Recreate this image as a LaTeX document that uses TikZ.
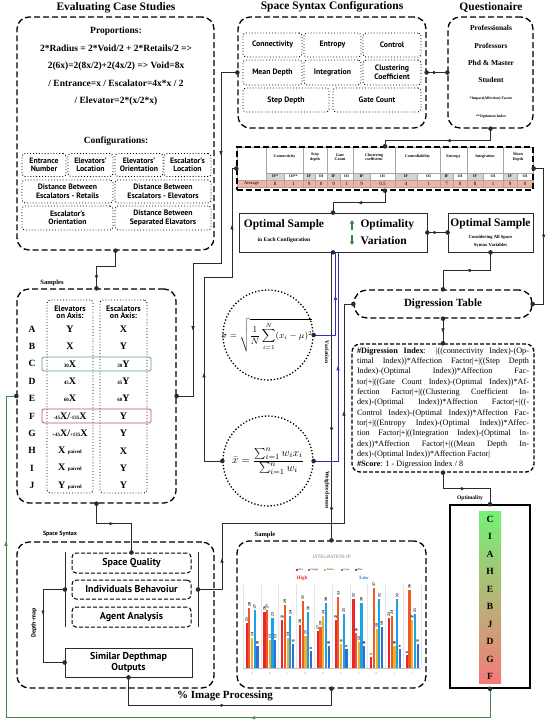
\documentclass[tikz,border=0pt]{standalone}
\usepackage{amsmath,amssymb}
\usepackage{fontspec}
\setmainfont{Liberation Serif}
\setsansfont{PT Sans}
\usepackage{xcolor}
\usepackage{tikz}
\usetikzlibrary{positioning, arrows.meta, decorations.markings}
\definecolor{lInk}{HTML}{2B2B2B}
\definecolor{lGreen}{HTML}{3C8C4C}
\definecolor{lBlue}{HTML}{2F2FB8}
\definecolor{tGray}{HTML}{D4D4D4}
\definecolor{tSalmon}{HTML}{F2B3A0}
\definecolor{hiGreen}{HTML}{5FA36E}
\definecolor{hiRed}{HTML}{D0504E}
\definecolor{triGreen}{HTML}{2E8B3E}
\definecolor{barc1}{HTML}{E8262B}
\definecolor{barc2}{HTML}{EE5A24}
\definecolor{barc3}{HTML}{F2B02A}
\definecolor{barc4}{HTML}{1E9FE6}
\definecolor{barc5}{HTML}{2D6FD2}
\definecolor{topGreen}{HTML}{74F274}
\definecolor{midTan}{HTML}{C7AC78}
\definecolor{botRed}{HTML}{F57A7A}
\newcommand{\fsz}[2]{\fontsize{#1}{#2}\selectfont}
\newcommand{\smallnum}[1]{{\fsz{5}{5}#1}}
\tikzset{
  bigbox/.style={draw=black, line width=1.3pt, dash pattern=on 6pt off 3pt,
    rounded corners=12pt, inner sep=0pt},
  dotbox/.style={draw=black, line width=0.9pt, dotted, rounded corners=3pt,
    inner sep=0pt, align=center, font=\sffamily\bfseries\fsz{7.8}{8.5}},
  dashbox/.style={draw=black, line width=1pt, dash pattern=on 4pt off 2pt,
    rounded corners=4pt, inner sep=0pt, font=\sffamily\bfseries\fsz{10}{11}},
  solbox/.style={draw=lInk, line width=0.8pt, inner sep=0pt, align=center},
  ttl/.style={font=\bfseries\fsz{11.5}{12}},
  ring/.style={circle, draw, dotted, line width=1.3pt, minimum size=90pt, inner sep=0pt},
  link/.style={color=lInk, line width=0.8pt},
  gridln/.style={draw=gray!70, line width=0.3pt},
  hdr/.style={font=\bfseries\fsz{4}{4.5}, align=center, inner sep=0pt},
  avgtxt/.style={font=\fsz{5}{5}, inner sep=0pt},
  arr/.style={postaction={decorate}, decoration={markings,
    mark=at position #1 with {\arrow{Latex[length=5pt,width=3.5pt]}}}},
  arrs/.style 2 args={postaction={decorate}, decoration={markings,
    mark=at position #1 with {\arrow{Latex[length=5pt,width=3.5pt]}},
    mark=at position #2 with {\arrow{Latex[length=5pt,width=3.5pt]}}}},
}

\begin{document}
\begin{tikzpicture}[x=1pt, y=-1pt]
\useasboundingbox (0,0) rectangle (550,721);

% evaluating case studies
\node[ttl] (tEcs) at (116,8) {Evaluating Case Studies};
\node[bigbox, minimum width=197pt, minimum height=233pt] (ecs) at (115.5,133.5) {};
\begin{scope}[every node/.style={font=\bfseries\fsz{9.5}{10}}]
  \node (prop) at (116,31) {Proportions:};
  \node (pr1) at (116,48) {2*Radius = 2*Void/2 + 2*Retails/2 =>};
  \node (pr2) at (116,66) {2(6x)=2(8x/2)+2(4x/2) => Void=8x};
  \node (pr3) at (116,83) {/ Entrance=x / Escalator=4x*x / 2};
  \node (pr4) at (116,101) {/ Elevator=2*(x/2*x)};
  \node (cfg) at (116,141) {Configurations:};
\end{scope}
\node[dotbox, minimum width=44pt, minimum height=23pt] (ent) at (44,165) {Entrance\\Number};
\node[dotbox, minimum width=45pt, minimum height=23pt] (elo) at (90.5,165) {Elevators'\\Location};
\node[dotbox, minimum width=48pt, minimum height=23pt] (eor) at (139,165) {Elevators'\\Orientation};
\node[dotbox, minimum width=47pt, minimum height=23pt] (esl) at (187.5,165) {Escalator's\\Location};
\node[dotbox, minimum width=91pt, minimum height=23pt] (der) at (67.5,191.5) {Distance Between\\Escalators - Retails};
\node[dotbox, minimum width=96pt, minimum height=23pt] (dee) at (163,191.5) {Distance Between\\Escalators - Elevators};
\node[dotbox, minimum width=91pt, minimum height=24pt] (eso) at (67.5,218) {Escalator's\\Orientation};
\node[dotbox, minimum width=96pt, minimum height=24pt] (dse) at (163,218) {Distance Between\\Separated Elavators};

% space syntax configurations
\node[ttl] (tSsc) at (332,7) {Space Syntax Configurations};
\node[bigbox, minimum width=188pt, minimum height=111pt] (ssc) at (332,72.5) {};
\node[dotbox, minimum width=59pt, minimum height=24pt] (con) at (272.5,45) {Connectivity};
\node[dotbox, minimum width=57pt, minimum height=24pt] (etp) at (332.5,45) {Entropy};
\node[dotbox, minimum width=58pt, minimum height=24pt] (ctl) at (392,45) {Control};
\node[dotbox, minimum width=59pt, minimum height=25pt] (mdp) at (272.5,72.5) {Mean Depth};
\node[dotbox, minimum width=57pt, minimum height=25pt] (itg) at (332.5,72.5) {Integration};
\node[dotbox, minimum width=58pt, minimum height=25pt] (clc) at (392,72.5) {Clustering\\Coefficient};
\node[dotbox, minimum width=86pt, minimum height=24pt] (sdp) at (286,100) {Step Depth};
\node[dotbox, minimum width=88pt, minimum height=24pt] (gtc) at (377,100) {Gate Count};

% questionaire
\node[ttl] (tQst) at (491,7) {Questionaire};
\node[bigbox, minimum width=85pt, minimum height=111pt] (qst) at (490.5,72.5) {};
\begin{scope}[every node/.style={font=\bfseries\fsz{7.5}{8}}]
  \node (q1) at (491,28) {Professionals};
  \node (q2) at (491,45.5) {Professors};
  \node (q3) at (491,63) {Phd \& Master};
  \node (q4) at (491,80) {Student};
\end{scope}
\node[font=\bfseries\fsz{3.8}{4}] (q5) at (491,99) {*Impact(Affection) Factor};
\node[font=\bfseries\fsz{3.8}{4}] (q6) at (491,117) {**Optimum Index};

% table
\foreach \l/\r/\txt [count=\i] in {266/303/Connectivity, 303/327/{Step\\depth}, 327/353/{Gate\\Count},
    353/395/{Clustering\\coefficient}, 395/440/Controllability, 440/467/Entropy,
    467/503/Integration, 503/533/{Mean\\Depth}} {
  \draw[gridln] (\l,147) rectangle (\r,173);
  \node[hdr] (hd\i) at ({(\l+\r)/2},157) {\txt};
}
\foreach \l/\r/\s/\v/\c [count=\i] in {266/284/IF*/8/tGray, 284/303/OI**/1/white, 303/315/IF/9/tGray,
    315/327/OI/0/white, 327/340/IF/9/tGray, 340/353/OI/1/white, 353/370/IF/9/tGray,
    370/395/OI/0.5/white, 395/417/IF/4/tGray, 417/440/OI/1/white, 440/453/IF/7/tGray,
    453/467/OI/0/white, 467/483/IF/8/tGray, 483/503/OI/1/white, 503/517/IF/9/tGray, 517/533/OI/0/white} {
  \draw[gridln, fill=\c] (\l,173) rectangle (\r,180);
  \draw[gridln, fill=tSalmon] (\l,180) rectangle (\r,187);
  \node[hdr] (sh\i) at ({(\l+\r)/2},176.5) {\s};
  \node[avgtxt] (av\i) at ({(\l+\r)/2},183.5) {\v};
}
\draw[gridln] (237,147) rectangle (266,180);
\draw[gridln, fill=tSalmon] (237,180) rectangle (266,187);
\node[avgtxt, font=\fsz{4.5}{5}] (avg) at (251.5,183.5) {Average};
\node[draw, line width=1.4pt, dash pattern=on 6pt off 3pt, minimum width=296pt,
  minimum height=43pt, inner sep=0pt] (tab) at (385,168.5) {};

% optimal samples
\node[solbox, minimum width=188pt, minimum height=39pt] (opt1) at (333,232.5) {};
\node[font=\bfseries\fsz{11.5}{12}] (o1a) at (284,225) {Optimal Sample};
\node[font=\bfseries\fsz{5.5}{6}] (o1b) at (284,240) {in Each Configuration};
\node[font=\bfseries\fsz{11.5}{12}, anchor=west] (o1c) at (357,225) {Optimality};
\node[font=\bfseries\fsz{11.5}{12}, anchor=west] (o1d) at (357,240.5) {Variation};
\draw[triGreen, line width=1.1pt, -{Triangle[length=3.5pt,width=4pt]}] (352,230) -- (352,220);
\draw[triGreen, line width=1.1pt, -{Triangle[length=3.5pt,width=4pt]}] (352,235) -- (352,245);
\node[solbox, minimum width=85pt, minimum height=39pt] (opt2) at (490.5,232.5) {};
\node[font=\bfseries\fsz{11.5}{12}] (o2a) at (490.5,223.5) {Optimal Sample};
\node[font=\bfseries\fsz{4.6}{8}, align=center] (o2b) at (490.5,241.5) {Considering All Space\\Syntax Variables};

% digression
\node[bigbox, rounded corners=13pt, minimum width=178pt, minimum height=28pt,
  font=\bfseries\fsz{11}{12}] (dgt) at (443,304) {Digression Table};
\node[bigbox, rounded corners=8pt, dash pattern=on 4pt off 2pt, minimum width=182pt,
  minimum height=128pt, text width=172pt, align=justify, font=\fsz{8.2}{10.3}] (dix) at (443,408)
  {\textbf{\#Digression Index}: |((connectivity Index)-(Op-\linebreak
  timal Index))*Affection Factor|+|((Step Depth\linebreak
  Index)-(Optimal Index))*Affection Fac-\linebreak
  tor|+|((Gate Count Index)-(Optimal Index))*Af-\linebreak
  fection Factor|+|((Clustering Coefficient In-\linebreak
  dex)-(Optimal Index))*Affection Factor|+|((-\linebreak
  Control Index)-(Optimal Index))*Affection Fac-\linebreak
  tor|+|((Entropy Index)-(Optimal Index))*Affec-\linebreak
  tion Factor|+|((Integration Index)-(Optimal In-\linebreak
  dex))*Affection Factor|+|((Mean Depth In-\linebreak
  dex)-(Optimal Index))*Affection Factor|\\
  \textbf{\#Score}: 1 - Digression Index / 8};

% optimality ranking
\node[font=\bfseries\fsz{5.5}{6}] (optl) at (470,498) {Optimality};
\node[draw, line width=1.5pt, minimum width=80pt, minimum height=183pt] (opb) at (490,596.5) {};
\shade[top color=topGreen, middle color=midTan, bottom color=botRed] (479,511) rectangle (501,683);
\foreach \l [count=\i] in {C,I,A,H,E,B,J,D,G,F}
  \node[font=\bfseries\fsz{9.5}{10}] (rk\i) at (490,{519+(\i-1)*17.5}) {\l};

% samples
\node[font=\bfseries\fsz{6.5}{7}] (tSmp) at (52,283) {Samples};
\node[bigbox, minimum width=159pt, minimum height=214pt] (smp) at (96.5,396) {};
\node[dotbox, minimum width=46pt, minimum height=193pt] (ecol) at (70,396.5) {};
\node[dotbox, minimum width=47pt, minimum height=193pt] (scol) at (123.5,396.5) {};
\node[font=\sffamily\bfseries\fsz{8}{7.5}, align=center] (hEl) at (70,312) {Elevators\\on Axis:};
\node[font=\sffamily\bfseries\fsz{8}{7.5}, align=center] (hEs) at (123.5,312) {Escalators\\on Axis:};
\draw[hiGreen, line width=0.9pt, rounded corners=1.5pt] (42,357) rectangle (151,371);
\draw[hiRed, line width=0.9pt, rounded corners=1.5pt] (42,409) rectangle (151,423);
\foreach \r/\e/\s [count=\i] in {A/Y/X, B/X/Y, C/{\smallnum{30}X}/{\smallnum{30}Y},
    D/{\smallnum{45}X}/{\smallnum{45}Y}, E/{\smallnum{60}X}/{\smallnum{60}Y},
    F/{\smallnum{-45}X/\smallnum{-135}X}/Y, G/{\smallnum{+45}X/\smallnum{+135}X}/Y,
    H/{X \smallnum{paired}}/X, I/{X \smallnum{paired}}/Y, J/{Y \smallnum{paired}}/Y} {
  \node[font=\bfseries\fsz{9.5}{10}] (sl\i) at (32,{329+(\i-1)*17.4}) {\r};
  \node[font=\bfseries\fsz{10}{10}] (se\i) at (70,{329+(\i-1)*17.4}) {\e};
  \node[font=\bfseries\fsz{10}{10}] (ss\i) at (123.5,{329+(\i-1)*17.4}) {\s};
}

% space syntax
\node[font=\sffamily\bfseries\fsz{6}{6}] (tSsx) at (60,534) {Space Syntax};
\node[bigbox, minimum width=197pt, minimum height=146pt] (ssx) at (115.5,615) {};
\draw[lInk, line width=1pt] (65,552) -- (65,627);
\draw[lInk, line width=1pt] (198,552) -- (198,627);
\coordinate (ibl) at (65,589.5);
\coordinate (ibr) at (198,589.5);
\node[dashbox, minimum width=119pt, minimum height=20pt] (spq) at (131.5,563) {Space Quality};
\node[dashbox, minimum width=119pt, minimum height=19pt] (ibh) at (131.5,589.5) {Individuals Behavoiur};
\node[dashbox, minimum width=119pt, minimum height=20pt] (aga) at (131.5,617) {Agent Analysis};
\node[solbox, minimum width=127pt, minimum height=29pt, font=\sffamily\bfseries\fsz{10}{11}] (sdo)
  at (128.5,662.5) {Similar Depthmap\\Outputs};
\node[rotate=90, font=\sffamily\bfseries\fsz{6}{6}] (dml) at (34,623) {Depth-map};
\node[font=\bfseries\fsz{11}{12}] (imp) at (225,696) {\% Image Processing};

% chart
\node[font=\bfseries\fsz{6.5}{7}] (tChart) at (265,535) {Sample};
\node[bigbox, minimum width=189pt, minimum height=147pt] (chart) at (331.5,614.5) {};
\node[font=\itshape\fsz{5}{5}, text=gray] (cTtl) at (331.7,557) {INTEGRATION-IP};
\foreach \c/\n/\x in {1/Red/296, 2/Orange/308, 3/Yellow/324, 4/Cyan/341, 5/Blue/355} {
  \fill[barc\c] (\x,568.5) rectangle ++(2,2);
  \node[font=\fsz{2.6}{3}, anchor=west, inner sep=0.5pt] (lg\c) at (\x+2,569.5) {\n};
}
\node[text=barc1, font=\bfseries\fsz{5}{5}] (hi) at (302,578) {High};
\node[text=barc5, font=\bfseries\fsz{5}{5}] (lo) at (364,578) {Low};
\foreach \g in {0,...,10}
  \draw[gray!20, line width=0.3pt] ({243+\g*17.8},585) -- ({243+\g*17.8},668);
\draw[gray!50, line width=0.3pt] (243,668) -- (421,668);
\foreach \vals [count=\g] in {{21,28,14,27,10},{26,27,13,23,13},{22,29,14,24,11},{20,31,15,26,8},
    {17,19,24,30,10},{22,33,11,25,9},{32,16,12,30,10},{5,37,18,32,19},{23,24,10,32,9},{6,36,22,25,11}} {
  \foreach \v [count=\k] in \vals {
    \pgfmathsetmacro{\bx}{245.5+(\g-1)*17.8+(\k-1)*2.7}
    \fill[barc\k] (\bx,668) rectangle ({\bx+2.2},{668-\v*2.16});
    \node[rotate=90, anchor=west, font=\bfseries\fsz{3.8}{4}, inner sep=0.3pt] (v\g-\k)
      at ({\bx+1.1},{667-\v*2.16}) {\v};
  }
}
\foreach \l [count=\g] in {A,B,C,D,E,F,G,H,I,J}
  \node[font=\fsz{2.6}{3}, text=gray] (cx\g) at ({252+(\g-1)*17.8},674) {\l};

% circles
\node[ring] (sig) at (268,335) {};
\node[font=\fsz{9.2}{10}] (sigf) at (267,335) {$\displaystyle\sigma=\sqrt{\frac{1}{N}\sum_{i=1}^{N}(x_i-\mu)^2}$};
\node[ring] (wmn) at (268,461) {};
\node[font=\fsz{10.8}{12}] (wmnf) at (268,461) {$\displaystyle\bar{x}=\frac{\sum_{i=1}^{n} w_i x_i}{\sum_{i=1}^{n} w_i}$};
\node[rotate=-90, font=\bfseries\fsz{5.5}{6}] (lVar) at (327,352) {Variation};
\node[rotate=-90, font=\bfseries\fsz{5.5}{6}] (lWm) at (327,490) {Weighted mean};

% connectors
\draw[link, arr=-8pt] (ecs.south) -- ++(0,16) -| (smp.north);
\draw[link, arrs={100pt}{303pt}] (ssc.west) -- (221,72.5) -- (221,263) -- (193,263) |- (smp.east);
\draw[link, arr=0.55] (ssc.east) -- (qst.west);
\draw[link, arr=57pt] (qst.south) -- ++(0,12) -| (tab.north);
\draw[link, arr=40pt] (tab.south) -- ++(0,12) -| (opt1.north);
\draw[link, arr=0.55] (opt1.east) -- (opt2.west);
\draw[link, arr=43pt] (opt2.south) -- ++(0,18) -| (dgt.north);
\draw[link, arr=81pt] (tab.east) -- ++(10,0) |- (dgt.east);
\draw[link, arr=0.6] (dgt.south) -- (dix.north);
\draw[link, arr=39pt] (dix.south) -- ++(0,16) -| (opb.north);
\draw[link, color=lGreen, arrs={269pt}{690pt}] (opb.south) -- ++(0,29) -| (6,396) -- (smp.west);
\draw[link, arr=38pt] (smp.south) -- ++(0,20) -| (spq.north);
\draw[link, arrs={56pt}{325pt}] (ibr) -- (222,589.5) |- (344,523) |- (dgt.west);
\draw[link, arr=48pt] (ibl) -- (43,589.5) |- (sdo.west);
\draw[link, arr=125pt] (sdo.south) -- ++(0,28) -| (chart.south);
\draw[link, arrs={36pt}{116pt}] (chart.north) -- (chart.north |- opt1.south);
\draw[link, color=lBlue, arr=62pt] (sig.east) -| ([xshift=2.5pt]opt1.south);
\draw[link, color=lBlue, arr=120pt] (wmn.east) -| ([xshift=5pt]opt1.south);
\draw[link, arrs={107pt}{283pt}] (wmn.west) -- (204,461) |- (232,277) |- (tab.west);

\foreach \p in {ecs.south, smp.north, ssc.west, ssc.east, qst.west, qst.south, tab.north,
    tab.south, tab.west, tab.east, opt1.north, opt1.south, opt1.east, opt2.west, opt2.south,
    dgt.north, dgt.south, dgt.east, dgt.west, dix.north, dix.south, opb.north, opb.south,
    smp.east, smp.west, smp.south, spq.north, ibl, ibr, sdo.west, sdo.south, chart.north,
    chart.south, sig.east, wmn.east, wmn.west}
  \fill[lInk] (\p) circle (2.3pt);
\end{tikzpicture}
\end{document}
